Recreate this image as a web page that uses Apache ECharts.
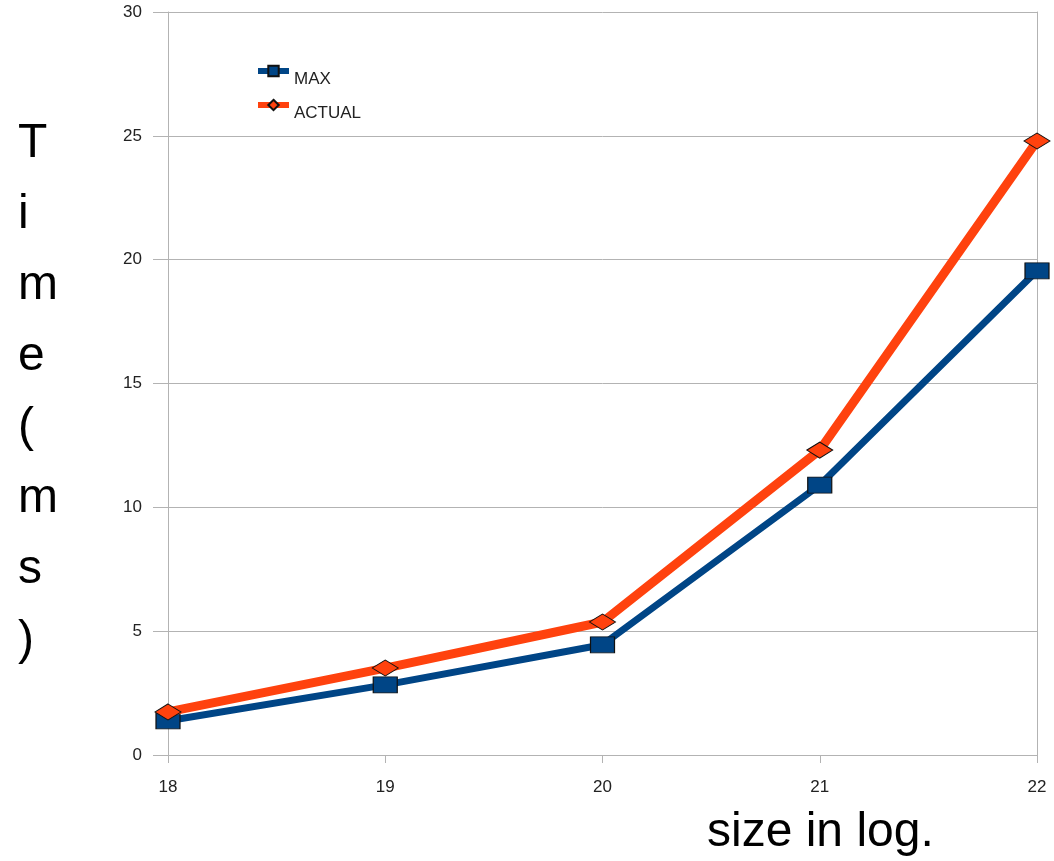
<!DOCTYPE html>
<html>
<head>
<meta charset="utf-8">
<script src="https://cdn.jsdelivr.net/npm/echarts@6/dist/echarts.min.js"></script>
<style>
  html, body { margin: 0; padding: 0; background: #fff; }
  #chart { width: 1054px; height: 861px; }
</style>
</head>
<body>
<div id="chart"></div>
<script>
// Sizes (log2) on the x axis
const sizes = [18, 19, 20, 21, 22];
// Timings in milliseconds
const maxTimes = [1.38, 2.83, 4.45, 10.9, 19.55];
const actualTimes = [1.74, 3.51, 5.37, 12.31, 24.79];
const seriesNames = ['MAX', 'ACTUAL'];
const yTitle = 'Time(ms)';
const xTitle = 'size in log.';

const FONT = '"Liberation Sans", Arial, sans-serif';
const GRID_GRAY = '#b3b3b3';
const BLUE = '#004586';
const ORANGE = '#ff420e';

const chart = echarts.init(document.getElementById('chart'), null, { renderer: 'canvas' });

chart.setOption({
  animation: false,
  backgroundColor: '#ffffff',
  grid: { left: 168, right: 17, top: 12, bottom: 106, containLabel: false },
  legend: {
    orient: 'vertical',
    left: 255,
    top: 54,
    padding: 0,
    itemWidth: 31,
    itemHeight: 13,
    itemGap: 0,
    lineStyle: { width: 6 },
    // legend labels sit a little below their line icons
    formatter: name => '{t|' + name + '}',
    textStyle: {
      fontFamily: FONT,
      fontSize: 17,
      color: '#222',
      rich: {
        t: {
          fontFamily: FONT,
          fontSize: 17,
          color: '#222',
          lineHeight: 17,
          padding: [17, 0, 0, 0]
        }
      }
    },
    data: seriesNames
  },
  xAxis: {
    type: 'value',
    min: 18,
    max: 22,
    interval: 1,
    axisLine: { show: false },
    axisTick: { show: true, length: 8, lineStyle: { color: GRID_GRAY, width: 1 } },
    splitLine: { show: false },
    axisLabel: { fontFamily: FONT, fontSize: 17, color: '#222', margin: 24 }
  },
  yAxis: [
    {
      type: 'value',
      min: 0,
      max: 30,
      interval: 5,
      axisLine: { show: true, lineStyle: { color: GRID_GRAY, width: 1 } },
      axisTick: { show: true, length: 15, lineStyle: { color: GRID_GRAY, width: 1 } },
      splitLine: { show: true, lineStyle: { color: GRID_GRAY, width: 1 } },
      axisLabel: { fontFamily: FONT, fontSize: 17, color: '#222', margin: 26 }
    },
    {
      type: 'value',
      position: 'right',
      min: 0,
      max: 30,
      interval: 5,
      axisLine: { show: true, lineStyle: { color: GRID_GRAY, width: 1 } },
      axisTick: { show: false },
      splitLine: { show: false },
      axisLabel: { show: false }
    }
  ],
  series: [
    {
      name: seriesNames[0],
      type: 'line',
      data: sizes.map((s, i) => [s, maxTimes[i]]),
      color: BLUE,
      lineStyle: { width: 7, color: BLUE },
      symbol: 'rect',
      symbolSize: [24, 16],
      itemStyle: { color: BLUE, borderColor: '#111', borderWidth: 1 },
      z: 2
    },
    {
      name: seriesNames[1],
      type: 'line',
      data: sizes.map((s, i) => [s, actualTimes[i]]),
      color: ORANGE,
      lineStyle: { width: 9, color: ORANGE },
      symbol: 'diamond',
      symbolSize: [26, 16],
      itemStyle: { color: ORANGE, borderColor: '#111', borderWidth: 1 },
      z: 3
    }
  ],
  graphic: [
    {
      type: 'text',
      left: 18,
      top: 108,
      style: {
        text: yTitle.split('').join('\n'),
        fontFamily: FONT,
        fontSize: 48,
        lineHeight: 71,
        fill: '#000',
        align: 'left'
      }
    },
    {
      type: 'text',
      left: 707,
      top: 809,
      style: {
        text: xTitle,
        fontFamily: FONT,
        fontSize: 48,
        lineHeight: 48,
        fill: '#000'
      }
    }
  ]
});
</script>
</body>
</html>
